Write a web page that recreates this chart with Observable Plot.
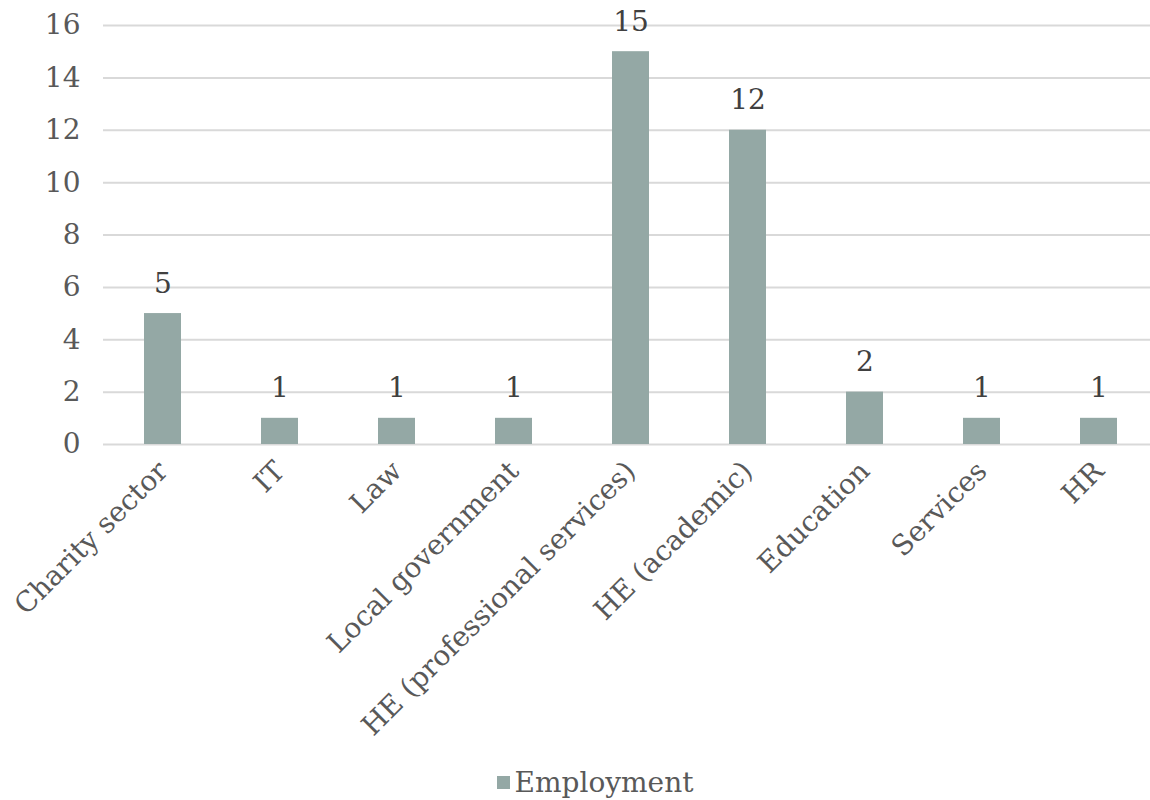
<!DOCTYPE html>
<html>
<head>
<meta charset="utf-8">
<script src="https://cdn.jsdelivr.net/npm/d3@7"></script>
<script src="https://cdn.jsdelivr.net/npm/@observablehq/plot@0.6"></script>
<style>
  html, body { margin: 0; background: #fff; font-family: "DejaVu Serif", serif; overflow: hidden; }
  #chart { width: 1150px; }
  #chart svg { display: block; overflow: visible; }
  #legend { width: 1110px; padding-left: 40px; display: flex; justify-content: center; align-items: center; font-size: 28px; color: #595959; margin-top: 44px; }
  #legend .sw { width: 13px; height: 13px; background: #94a8a5; margin-right: 5px; }
</style>
</head>
<body>
<div id="chart"></div>
<div id="legend"><span class="sw"></span><span>Employment</span></div>
<script>
const categories = ["Charity sector", "IT", "Law", "Local government", "HE (professional services)", "HE (academic)", "Education", "Services", "HR"];
const values = [5, 1, 1, 1, 15, 12, 2, 1, 1];
const yTicks = [0, 2, 4, 6, 8, 10, 12, 14, 16];
const seriesName = "Employment";

const data = categories.map((c, i) => ({category: c, value: values[i]}));

const chart = Plot.plot({
  width: 1150,
  height: 722,
  marginLeft: 103,
  marginRight: -9,
  marginTop: 25,
  marginBottom: 278,
  style: { fontFamily: "DejaVu Serif, serif", fontSize: "28px", color: "#595959", background: "#fff", overflow: "visible" },
  x: { domain: categories, paddingInner: 0.68, paddingOuter: 0.34, label: null },
  y: { domain: [0, 16], ticks: yTicks, label: null },
  marks: [
    Plot.gridY(yTicks, { stroke: "#d9d9d9", strokeOpacity: 1, strokeWidth: 2 }),
    Plot.axisY({ ticks: yTicks, tickSize: 0, tickPadding: 23, fontSize: 28, fill: "#595959", label: null }),
    Plot.axisX({ tickSize: 0, tickPadding: 22, tickRotate: -45, fontSize: 28, fill: "#595959", label: null }),
    Plot.barY(data, { x: "category", y: "value", fill: "#94a8a5" }),
    Plot.text(data, { x: "category", y: "value", text: d => String(d.value), dy: -30, fontSize: 28, fill: "#404040" })
  ]
});
document.getElementById("chart").appendChild(chart);
</script>
</body>
</html>
